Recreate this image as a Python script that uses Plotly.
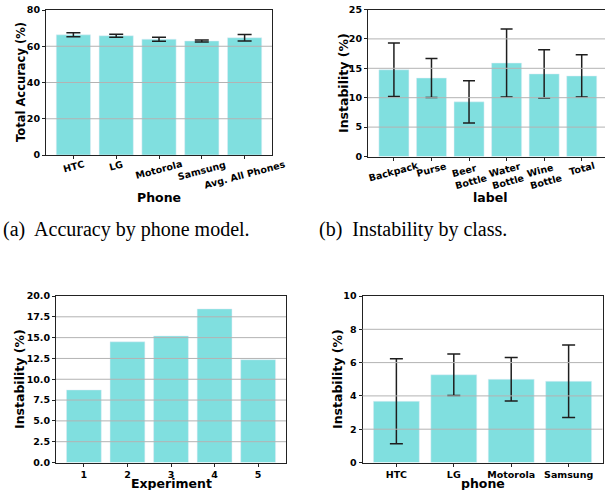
import plotly.graph_objects as go

# ---------------- data ----------------
phones_a = ["HTC", "LG", "Motorola", "Samsung", "Avg. All Phones"]
accuracy = [66.3, 65.8, 63.9, 62.9, 64.7]
accuracy_err = [1.1, 0.8, 1.1, 0.55, 1.75]

classes = ["Backpack", "Purse", "Beer Bottle", "Water Bottle", "Wine Bottle", "Total"]
class_labels = ["Backpack", "Purse", "Beer<br>Bottle", "Water<br>Bottle", "Wine<br>Bottle", "Total"]
class_instab = [14.75, 13.35, 9.3, 15.9, 14.05, 13.7]
class_err = [4.55, 3.3, 3.6, 5.8, 4.1, 3.6]

experiments = ["1", "2", "3", "4", "5"]
exp_instab = [8.72, 14.5, 15.2, 18.45, 12.35]

phones_d = ["HTC", "LG", "Motorola", "Samsung"]
phone_instab = [3.68, 5.27, 5.0, 4.88]
phone_err = [2.55, 1.25, 1.3, 2.18]

yticks_a = [0, 20, 40, 60, 80]
yticks_b = [0, 5, 10, 15, 20, 25]
yticks_c = [0, 2.5, 5, 7.5, 10, 12.5, 15, 17.5, 20]
yticks_d = [0, 2, 4, 6, 8, 10]

# ---------------- style ----------------
W, H = 605, 490
BAR = "#80dfdf"
ERR = "#1e1e1e"
GRID = "#b3b3b3"
FONT = "DejaVu Sans"
TICK = dict(family=FONT, size=9.5, color="black", weight="bold")


def px_x(p):
    return p / W


def px_y(p):
    return 1 - p / H


fig = go.Figure()

fig.add_trace(go.Bar(x=phones_a, y=accuracy, marker_color=BAR, xaxis="x", yaxis="y",
                     error_y=dict(type="data", array=accuracy_err, color=ERR, thickness=1.5, width=7)))
fig.add_trace(go.Bar(x=classes, y=class_instab, marker_color=BAR, xaxis="x2", yaxis="y2",
                     error_y=dict(type="data", array=class_err, color=ERR, thickness=1.5, width=6)))
fig.add_trace(go.Bar(x=experiments, y=exp_instab, marker_color=BAR, xaxis="x3", yaxis="y3"))
fig.add_trace(go.Bar(x=phones_d, y=phone_instab, marker_color=BAR, xaxis="x4", yaxis="y4",
                     error_y=dict(type="data", array=phone_err, color=ERR, thickness=1.5, width=6.5)))

panels = [
    # x id, y id, x px span, y px span (top, bottom), x range, y range, y ticks, show x ticklabels, y tick text, right spine
    ("x", "y", (46, 272), (10, 155), [-0.64, 4.64], [0, 80], yticks_a, False, [str(v) for v in yticks_a], True),
    ("x2", "y2", (368, 605), (9.5, 156.5), [-0.69, 5.62], [0, 25], yticks_b, False, [str(v) for v in yticks_b], False),
    ("x3", "y3", (56, 286), (296, 462.5), [-0.64, 4.64], [0, 20], yticks_c, True, ["%.1f" % v for v in yticks_c], True),
    ("x4", "y4", (362.5, 602.5), (296, 462.5), [-0.59, 3.59], [0, 10], yticks_d, True, [str(v) for v in yticks_d], True),
]

layout = dict(width=W, height=H, margin=dict(l=0, r=0, t=0, b=0, pad=0, autoexpand=False),
              paper_bgcolor="white", plot_bgcolor="white", showlegend=False,
              bargap=0.2)
shapes = []
for xa, ya, xd, yd, xr, yr, yt, showx, ytext, rspine in panels:
    xkey = "xaxis" if xa == "x" else "xaxis" + xa[1:]
    ykey = "yaxis" if ya == "y" else "yaxis" + ya[1:]
    layout[xkey] = dict(domain=[px_x(xd[0]), min(1.0, px_x(xd[1]))], anchor=ya, range=xr,
                        showline=True, mirror=True, linecolor="#222", linewidth=1,
                        ticks="outside", ticklen=3, tickcolor="#222", showgrid=False,
                        showticklabels=showx, tickfont=TICK, zeroline=False, layer="above traces",
                        automargin=False, fixedrange=True)
    layout[ykey] = dict(domain=[px_y(yd[1]), px_y(yd[0])], anchor=xa, range=yr,
                        showline=True, mirror=rspine, linecolor="#222", linewidth=1,
                        ticks="outside", ticklen=3, tickcolor="#222", showgrid=False,
                        tickvals=yt, ticktext=ytext, tickfont=TICK, zeroline=False,
                        layer="above traces", automargin=False, fixedrange=True)
    for v in yt[1:-1]:
        shapes.append(dict(type="line", xref=xa + " domain", yref=ya, x0=0, x1=1, y0=v, y1=v,
                           line=dict(color=GRID, width=1), layer="above"))
layout["shapes"] = shapes

ann = []
for c in phones_a:
    ann.append(dict(text=c, x=c, xref="x", y=0, yref="y domain", yanchor="top", xanchor="center",
                    yshift=-1, textangle=-15, showarrow=False, font=TICK))
for c, lab in zip(classes, class_labels):
    ann.append(dict(text=lab, x=c, xref="x2", y=0, yref="y2 domain", yanchor="top", xanchor="center",
                    align="left", yshift=-1, textangle=-15, showarrow=False, font=TICK))

TITLE = dict(family=FONT, size=12, color="black", weight="bold")


def title(text, x, y, angle=0, size=12):
    f = dict(TITLE)
    f["size"] = size
    ann.append(dict(text=text, x=px_x(x), y=px_y(y), xref="paper", yref="paper",
                    xanchor="center", yanchor="middle", textangle=angle, showarrow=False, font=f))


title("Total Accuracy (%)", 20.5, 82.5, -90, 11.5)
title("Phone", 159, 198, 0, 12.5)
title("Instability (%)", 343, 83, -90, 12.5)
title("label", 490, 197.5, 0, 12.5)
title("Instability (%)", 19, 379, -90, 12.5)
title("Experiment", 171, 483.5, 0, 12.5)
title("Instability (%)", 337, 379, -90, 12.5)
title("phone", 483, 483, 0, 12.5)

CAP = dict(family="Liberation Serif", size=20, color="black")
ann.append(dict(text="(a)  Accuracy by phone model.", x=px_x(126.5), y=px_y(229), xref="paper", yref="paper",
                xanchor="center", yanchor="middle", showarrow=False, font=CAP))
ann.append(dict(text="(b)  Instability by class.", x=px_x(413), y=px_y(229), xref="paper", yref="paper",
                xanchor="center", yanchor="middle", showarrow=False, font=CAP))
layout["annotations"] = ann

fig.update_layout(**layout)
fig.write_html("out.html", config={"displayModeBar": False, "staticPlot": True},
               post_script="document.body.style.margin='0';document.body.style.overflow='hidden';")
